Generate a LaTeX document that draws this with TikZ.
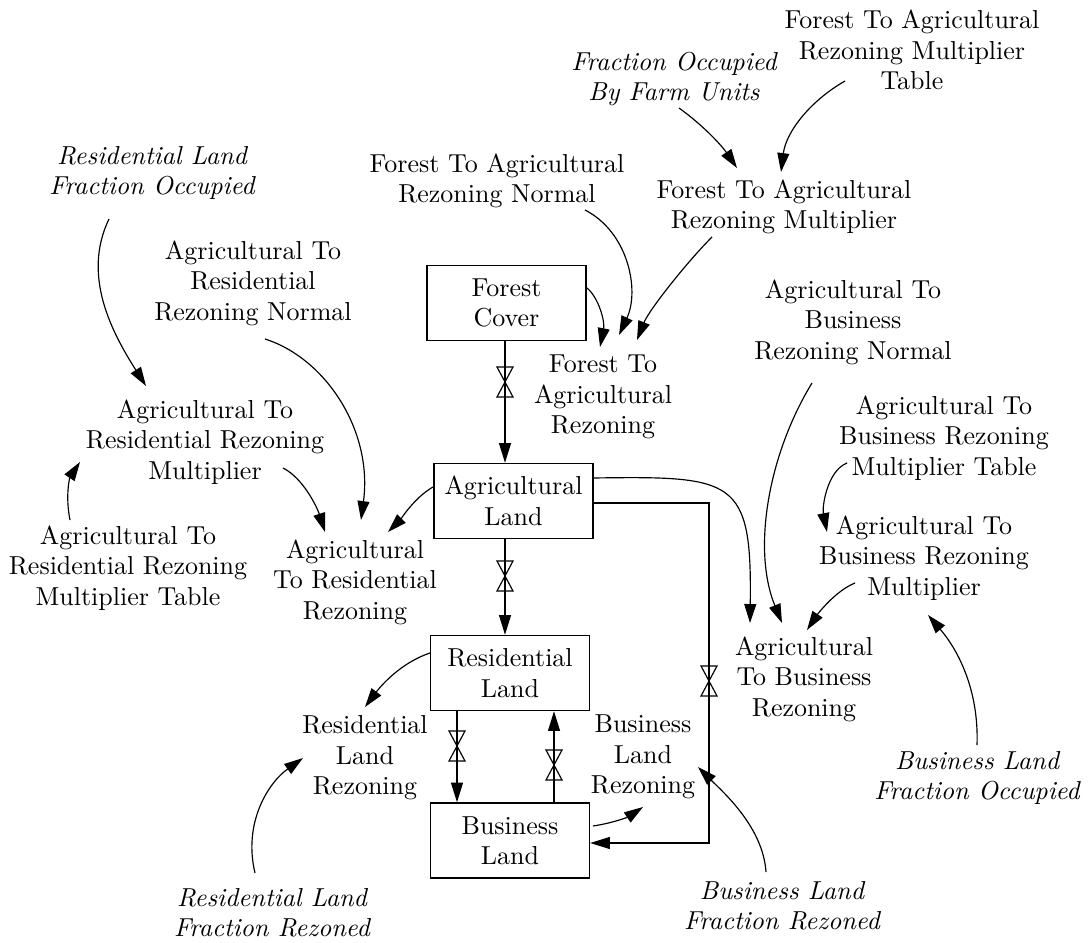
\documentclass[tikz,border=0pt]{standalone}
\usetikzlibrary{arrows.meta,calc}
\tikzset{
  valve/.pic={\draw[line width=0.45pt] (-8,-15) -- (8,-15) -- (-8,15) -- (8,15) -- cycle;},
  basefont/.style={font=\fontsize{10pt}{11.7pt}\selectfont},
  stock/.style={draw, line width=0.5pt, minimum width=61.2pt, minimum height=28.9pt, align=center, inner sep=1pt, basefont},
  var/.style={align=center, inner sep=0pt, basefont},
  ivar/.style={align=center, inner sep=0pt, font=\fontsize{10pt}{11.7pt}\selectfont\itshape},
  info/.style={line width=0.45pt, -{Triangle[length=7.3pt,width=4.6pt]}},
  flow/.style={line width=0.5pt, -{Triangle[length=7.6pt,width=4.6pt]}}
}
\begin{document}
\begin{tikzpicture}[x=0.385pt,y=-0.385pt]
\useasboundingbox (0,0) rectangle (1092,943);

% auxiliary variables
\node[var]  (ftarmt) at (912,50)  {Forest To Agricultural\\Rezoning Multiplier\\Table};
\node[ivar] (fobfu)  at (674,79)  {Fraction Occupied\\By Farm Units};
\node[var]  (ftarm)  at (784,207) {Forest To Agricultural\\Rezoning Multiplier};
\node[var]  (ftarn)  at (497,181) {Forest To Agricultural\\Rezoning Normal};
\node[ivar] (rlfo)   at (152,173) {Residential Land\\Fraction Occupied};
\node[var]  (atrrn)  at (253,283) {Agricultural To\\Residential\\Rezoning Normal};
\node[var]  (ftar)   at (603,397) {Forest To\\Agricultural\\Rezoning};
\node[var]  (atbrn)  at (853,322) {Agricultural To\\Business\\Rezoning Normal};
\node[var]  (atrrm)  at (205,442) {Agricultural To\\Residential Rezoning\\Multiplier};
\node[var]  (atbrmt) at (944,438) {Agricultural To\\Business Rezoning\\Multiplier Table};
\node[var]  (atrrmt) at (128,568) {Agricultural To\\Residential Rezoning\\Multiplier Table};
\node[var]  (atrr)   at (355,582) {Agricultural\\To Residential\\Rezoning};
\node[var]  (atbrm)  at (924,558) {Agricultural To\\Business Rezoning\\Multiplier};
\node[var]  (atbr)   at (804,679) {Agricultural\\To Business\\Rezoning};
\node[var]  (rlr)    at (365,758) {Residential\\Land\\Rezoning};
\node[var]  (blr)    at (643,757) {Business\\Land\\Rezoning};
\node[ivar] (blfo)   at (977,778) {Business Land\\Fraction Occupied};
\node[ivar] (rlfr)   at (272,913) {Residential Land\\Fraction Rezoned};
\node[ivar] (blfr)   at (782,906) {Business Land\\Fraction Rezoned};

% stocks
\node[stock] (fc) at (506.5,303) {Forest\\Cover};
\node[stock] (al) at (513.5,501) {Agricultural\\Land};
\node[stock] (rl) at (510,673)   {Residential\\Land};
\node[stock] (bl) at (510,840.5) {Business\\Land};

% valves
\coordinate (v1) at (505,382);
\coordinate (v2) at (505,576);
\coordinate (v3) at (457,746);
\coordinate (v4) at (554,765);
\coordinate (v5) at (709,681);

% flows
\draw[flow] (fc.south -| v1) -- (al.north -| v1);
\draw[flow] (al.south -| v2) -- (rl.north -| v2);
\draw[flow] (rl.south -| v3) -- (bl.north -| v3);
\draw[flow] (bl.north -| v4) -- (rl.south -| v4);
\draw[flow] ($(al.east)+(0,2)$) -| (v5) |- ($(bl.east)+(0,2.5)$);
\pic at (v1) {valve};
\pic at (v2) {valve};
\pic at (v3) {valve};
\pic at (v4) {valve};
\pic at (v5) {valve};

% information links
\draw[info] ($(fobfu)+(5,29)$) .. controls (704,126) and (722,146) .. ($(ftarm)+(-47,-39)$);
\draw[info] ($(ftarmt)+(-67,31)$) .. controls (810,101) and (786,132) .. ($(ftarm)+(-3,-35)$);
\draw[info] ($(ftarm)+(-72,30)$) .. controls (687,262) and (649,310) .. ($(ftar)+(34,-57)$);
\draw[info] ($(ftarn)+(88,29)$) .. controls (628,232) and (640,290) .. ($(ftar)+(16,-62)$);
\draw[info] ($(fc)+(80.5,-15)$) .. controls (599,298) and (605,322) .. ($(ftar)+(-3,-50)$);
\draw[info] ($(rlfo)+(-43,46)$) .. controls (82,275) and (111,331) .. ($(atrrm)+(-59,-56)$);
\draw[info] ($(atrrmt)+(-58,-48)$) .. controls (65,495) and (70,477) .. ($(atrrm)+(-125,20)$);
\draw[info] ($(atrrn)+(12,56)$) .. controls (325,358) and (373,430) .. ($(atrr)+(6,-62)$);
\draw[info] ($(atrrm)+(78,26)$) .. controls (303,478) and (317,507) .. ($(atrr)+(-30,-50)$);
\draw[info] ($(al)+(-80.5,-14)$) .. controls (415,497) and (400,520) .. ($(atrr)+(33,-50)$);
\draw[info] ($(al)+(79.5,-23)$) .. controls (735,476) and (752,478) .. ($(atbr)+(-54,-56)$);
\draw[info] ($(atbrn)+(-41,61)$) .. controls (768,455) and (752,550) .. ($(atbr)+(-22,-56)$);
\draw[info] ($(atbrmt)+(-97,25)$) .. controls (827,471) and (822,507) .. ($(atbrm)+(-97,-26)$);
\draw[info] ($(atbrm)+(-69,25)$) .. controls (835,591) and (817,615) .. ($(atbr)+(3,-49)$);
\draw[info] ($(blfo)+(0,-33)$) .. controls (979,690) and (958,650) .. ($(atbrm)+(4,57)$);
\draw[info] ($(rl)+(-80,-20)$) .. controls (400,663) and (380,687) .. ($(rlr)+(0,-51)$);
\draw[info] ($(rlfr)+(-17,-40)$) .. controls (243,823) and (268,783) .. ($(rlr)+(-62,0)$);
\draw[info] ($(bl)+(83,-14.5)$) .. controls (613,823) and (628,817) .. ($(blr)+(0,50)$);
\draw[info] ($(blfr)+(-16,-34)$) .. controls (763,827) and (723,792) .. ($(blr)+(55,10)$);
\end{tikzpicture}
\end{document}
